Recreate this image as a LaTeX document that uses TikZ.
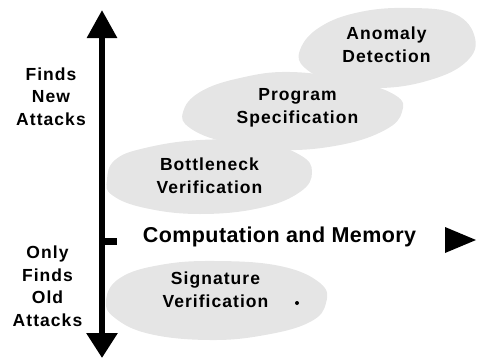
\documentclass[tikz,border=0pt]{standalone}
\usepackage{fontspec}
\usetikzlibrary{arrows.meta}
\newfontfamily\lblfont{Liberation Sans}[LetterSpace=6]
\newfontfamily\axisfont{Liberation Sans}[LetterSpace=2]
\definecolor{cloud}{gray}{0.9}
\tikzset{
  blob/.style={fill=cloud, draw=none},
  % anchor=base sits on the baseline of the last line
  lbl/.style={font=\lblfont\bfseries\fontsize{17.5}{22.5}\selectfont, align=center, inner sep=0pt, anchor=base},
  axislbl/.style={font=\axisfont\bfseries\fontsize{21.5}{26}\selectfont, inner sep=0pt, anchor=base},
}
\begin{document}
\begin{tikzpicture}[x=1pt, y=-1pt]
\useasboundingbox (0,0) rectangle (496,362);

% shaded regions behind the approaches
\fill[blob] plot[smooth cycle, tension=0.7] coordinates {(300,50) (320,27) (360,12) (410,8) (455,14) (475,38) (466,62) (430,80) (380,88) (335,82) (305,68)};
\fill[blob] plot[smooth cycle, tension=0.7] coordinates {(183,112) (200,92) (240,78) (290,72) (350,80) (395,95) (402,112) (385,130) (340,145) (280,150) (225,142) (190,128)};
\fill[blob] plot[smooth cycle, tension=0.7] coordinates {(107,180) (115,160) (145,148) (200,140) (260,142) (300,155) (312,172) (300,192) (260,208) (200,214) (145,208) (112,195)};
\fill[blob] plot[smooth cycle, tension=0.7] coordinates {(106,300) (120,278) (160,265) (215,261) (280,266) (320,283) (326,303) (310,322) (265,335) (210,340) (150,334) (115,318)};

% vertical axis: new attacks vs. old attacks
\coordinate (vtop) at (102,10);
\coordinate (vbot) at (102,358);
\draw[line width=6pt, {Triangle[width=29pt,length=28pt]}-{Triangle[width=30pt,length=25pt]}] (vtop) -- (vbot);
\coordinate (tickA) at (102,241);
\coordinate (tickB) at (117,241);
\draw[line width=7pt] (tickA) -- (tickB);

% horizontal axis head
\coordinate (hA) at (445,227);
\coordinate (hB) at (476,240);
\coordinate (hC) at (445,253);
\fill (hA) -- (hB) -- (hC) -- cycle;

% labels
\node[lbl] (newatt) at (51,125) {Finds\\New\\Attacks};
\node[lbl] (oldatt) at (47.5,326) {Only\\Finds\\Old\\Attacks};
\node[axislbl] (cm) at (279.5,242) {Computation and Memory};
\node[lbl] (anom) at (386.5,62) {Anomaly\\Detection};
\node[lbl] (prog) at (297.5,123) {Program\\Specification};
\node[lbl] (bott) at (209.5,193) {Bottleneck\\Verification};
\node[lbl] (sig) at (215.5,307) {Signature\\Verification};
\fill (297,303) circle (2pt);
\end{tikzpicture}
\end{document}
